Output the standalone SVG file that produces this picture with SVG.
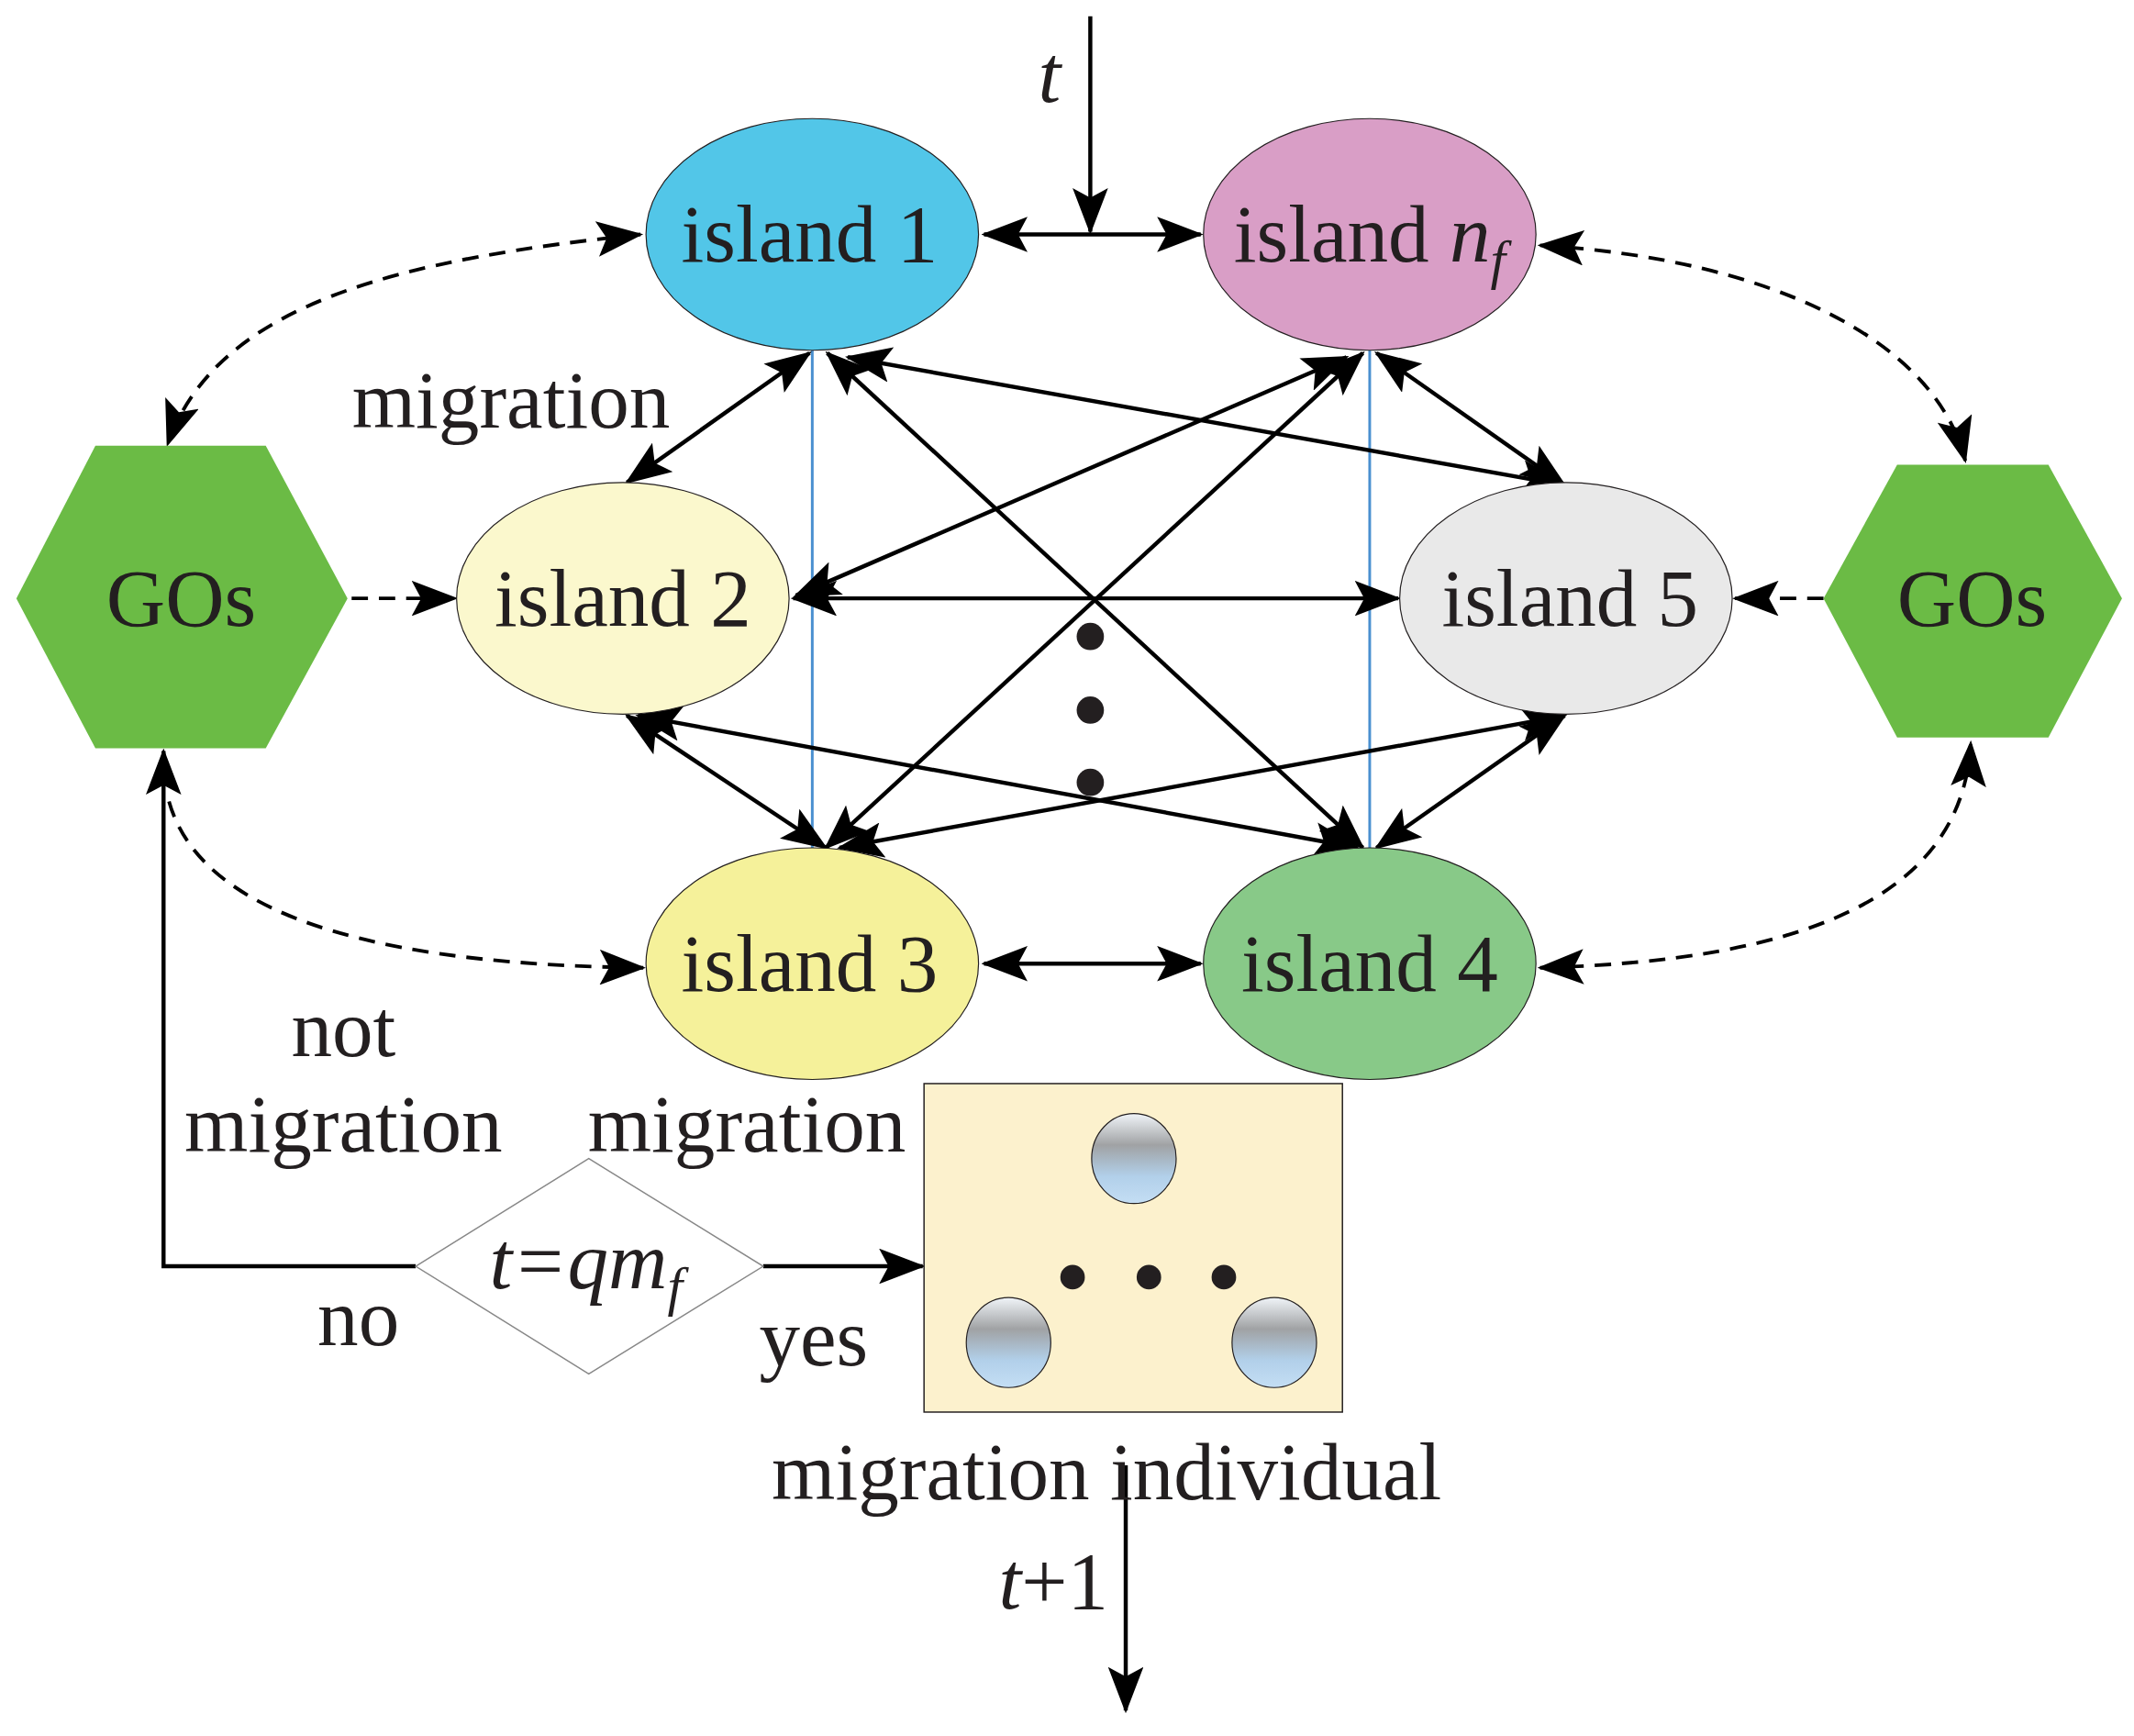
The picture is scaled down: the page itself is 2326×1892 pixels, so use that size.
<svg xmlns="http://www.w3.org/2000/svg" width="2326" height="1892" viewBox="0 0 2326 1892">
<style>
.t{font-family:"Liberation Serif",serif;font-size:60px;fill:#231f20;text-anchor:middle}
.i{font-style:italic}
.c{stroke:#000;stroke-width:3;fill:none}
.d{stroke:#000;stroke-width:2.6;fill:none;stroke-dasharray:12 8}
.a2{marker-start:url(#ah);marker-end:url(#ah)}
.a1{marker-end:url(#ah)}
.n{stroke:#231f20;stroke-width:0.8}
</style>
<defs>
<marker id="ah" markerUnits="userSpaceOnUse" viewBox="0 0 34 26" markerWidth="34" markerHeight="26" refX="32" refY="13" orient="auto-start-reverse"><path d="M0,0 L34,13 L0,26 L7,13 Z" fill="#000"/></marker>
<linearGradient id="g" x1="0" y1="0" x2="0" y2="1"><stop offset="0" stop-color="#f0f4f8"/><stop offset="0.35" stop-color="#a0a2a4"/><stop offset="0.7" stop-color="#b2d0ea"/><stop offset="1" stop-color="#c4def4"/></linearGradient>
</defs>
<rect width="2326" height="1892" fill="#fff"/>
<g transform="scale(1.4855)">
<g id="connectors">
<line class="c" x1="596" y1="257" x2="596" y2="622" style="stroke:#4a90d0;stroke-width:2"/>
<line class="c" x1="1005" y1="257" x2="1005" y2="622" style="stroke:#4a90d0;stroke-width:2"/>
<line class="c a1" x1="800" y1="12" x2="800" y2="170"/>
<line class="c a2" x1="722" y1="172" x2="881" y2="172"/>
<line class="c a2" x1="722" y1="707" x2="881" y2="707"/>
<line class="c a2" x1="460" y1="354" x2="594" y2="259"/>
<line class="c a2" x1="607" y1="259" x2="1000" y2="622"/>
<line class="c a2" x1="622" y1="262" x2="1148" y2="356"/>
<line class="c a2" x1="1000" y1="259" x2="606" y2="622"/>
<line class="c a2" x1="988" y1="262" x2="584" y2="437"/>
<line class="c a2" x1="1010" y1="259" x2="1148" y2="356"/>
<line class="c a2" x1="582" y1="439" x2="1026" y2="439"/>
<line class="c a2" x1="460" y1="525" x2="606" y2="622"/>
<line class="c a2" x1="468" y1="525" x2="996" y2="622"/>
<line class="c a2" x1="1148" y1="525" x2="616" y2="622"/>
<line class="c a2" x1="1148" y1="525" x2="1010" y2="622"/>
<path class="d a2" d="M470,172 C300,190 160,220 123,326"/>
<path class="d a1" d="M124,588 C150,680 300,708 472,710"/>
<path class="d a2" d="M1130,180 C1300,190 1420,250 1442,338"/>
<path class="d a2" d="M1130,710 C1320,705 1440,660 1446,545"/>
<line class="d a1" x1="258" y1="439" x2="334" y2="439"/>
<line class="d a1" x1="1338" y1="439" x2="1273" y2="439"/>
<polyline class="c a1" points="305,929 120,929 120,551"/>
<line class="c a1" x1="560" y1="929" x2="677" y2="929"/>
<line class="c a1" x1="826" y1="1075" x2="826" y2="1255"/>
</g>
<g id="dots"><circle cx="800" cy="467" r="10" fill="#231f20"/><circle cx="800" cy="521" r="10" fill="#231f20"/><circle cx="800" cy="574" r="10" fill="#231f20"/></g>
<g id="island1"><ellipse class="n" cx="596" cy="172" rx="122" ry="85" fill="#52c6e8"/><text class="t" x="594" y="192">island 1</text></g>
<g id="islandnf"><ellipse class="n" cx="1005" cy="172" rx="122" ry="85" fill="#d99ec6"/><text class="t" x="1005" y="192">island <tspan class="i">n</tspan><tspan class="i" font-size="40" dy="12">f</tspan></text></g>
<g id="island2"><ellipse class="n" cx="457" cy="439" rx="122" ry="85" fill="#fbf8cd"/><text class="t" x="457" y="459">island 2</text></g>
<g id="island5"><ellipse class="n" cx="1149" cy="439" rx="122" ry="85" fill="#e9e9e9"/><text class="t" x="1152" y="459">island 5</text></g>
<g id="island3"><ellipse class="n" cx="596" cy="707" rx="122" ry="85" fill="#f5f19a"/><text class="t" x="594" y="727">island 3</text></g>
<g id="island4"><ellipse class="n" cx="1005" cy="707" rx="122" ry="85" fill="#88c988"/><text class="t" x="1005" y="727">island 4</text></g>
<g id="gosL"><polygon points="12,439 70,327 195,327 255,439 195,549 70,549" fill="#6bbb45"/><text class="t" x="133" y="459">GOs</text></g>
<g id="gosR"><polygon points="1338,439 1392,341 1503,341 1557,439 1503,541 1392,541" fill="#6bbb45"/><text class="t" x="1447" y="459">GOs</text></g>
<g id="decision"><polygon points="305,929 432,850 560,929 432,1008" fill="#fff" stroke="#888" stroke-width="1"/><text class="t i" x="430" y="945">t=qm<tspan font-size="40" dy="12">f</tspan></text></g>
<g id="box"><rect x="678" y="795" width="307" height="241" fill="#fcf1cd" stroke="#231f20" stroke-width="1"/>
<ellipse cx="832" cy="850" rx="31" ry="33" fill="url(#g)" class="n"/><ellipse cx="740" cy="985" rx="31" ry="33" fill="url(#g)" class="n"/><ellipse cx="935" cy="985" rx="31" ry="33" fill="url(#g)" class="n"/>
<circle cx="787" cy="937" r="9" fill="#231f20"/><circle cx="843" cy="937" r="9" fill="#231f20"/><circle cx="898" cy="937" r="9" fill="#231f20"/></g>
<g id="labels">
<text class="t i" x="770" y="75">t</text>
<text class="t" x="375" y="314">migration</text>
<text class="t" x="252" y="775">not</text>
<text class="t" x="252" y="845">migration</text>
<text class="t" x="548" y="845">migration</text>
<text class="t" x="263" y="987">no</text>
<text class="t" x="597" y="1002">yes</text>
<text class="t" x="812" y="1100">migration individual</text>
<text class="t" x="773" y="1180"><tspan class="i">t</tspan>+1</text>
</g>
</g>
</svg>
